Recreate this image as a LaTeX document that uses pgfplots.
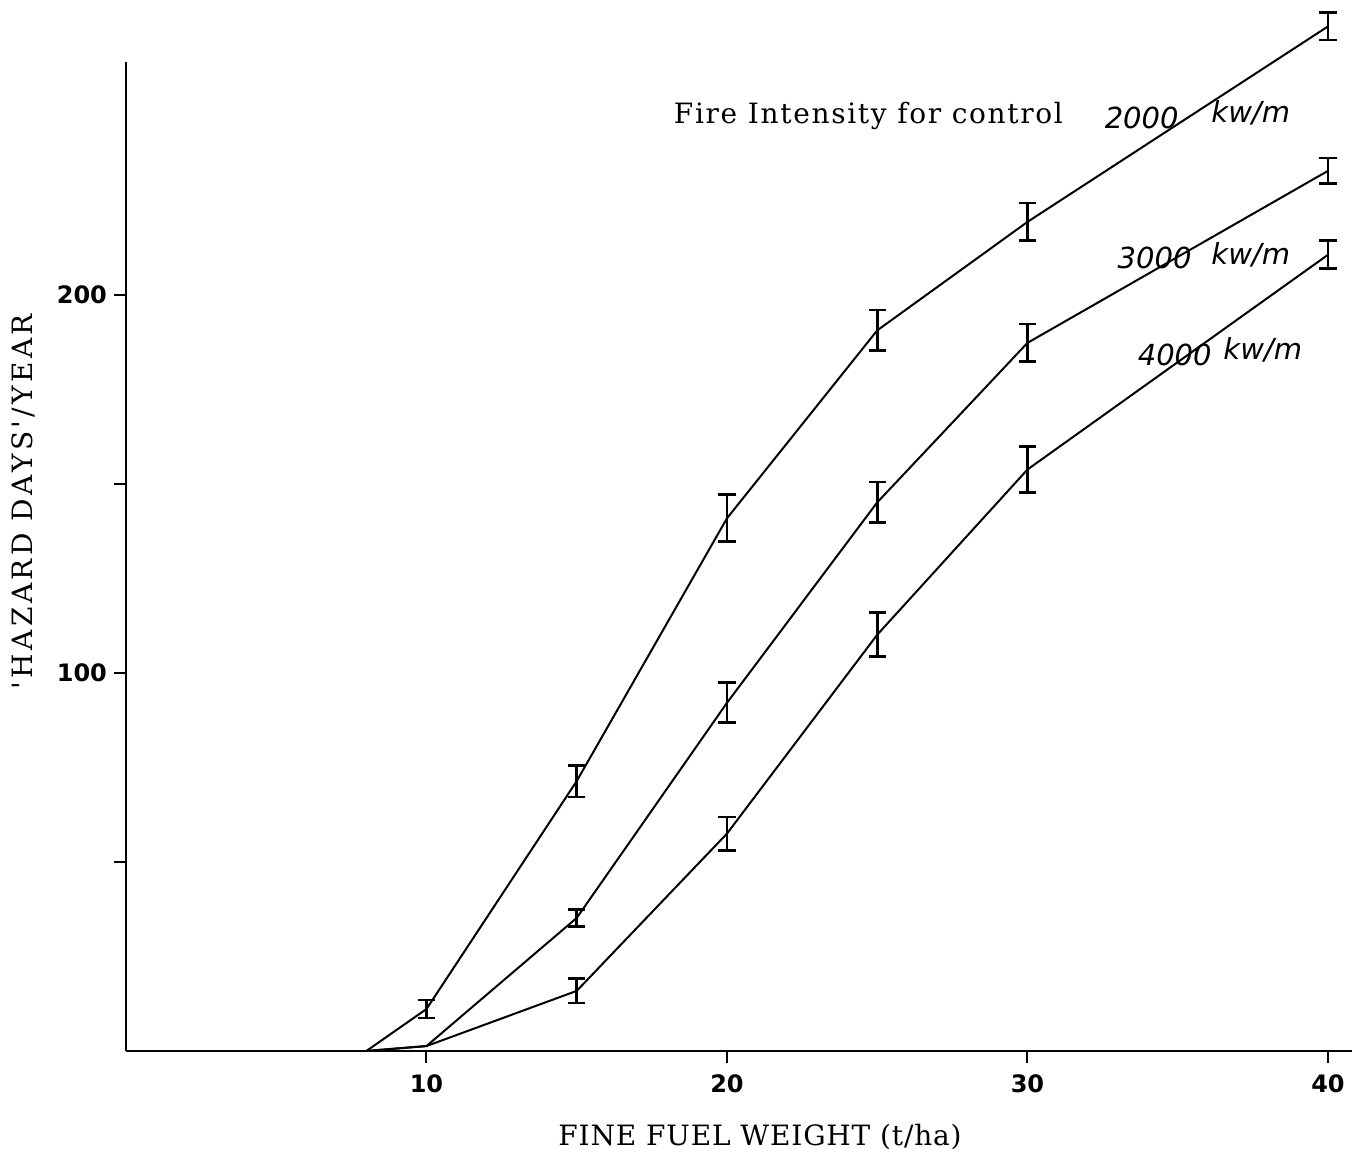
\documentclass[border=0pt]{standalone}
\usepackage{fontspec}
\usepackage{pgfplots}
\usepackage{pgfplotstable}
\pgfplotsset{compat=1.18}
\newfontfamily\tickfont{DejaVu Sans}
\newfontfamily\curvefont{DejaVu Sans}
\newfontfamily\titlefont{DejaVu Serif}[LetterSpace=6]
\newfontfamily\xlabfont{DejaVu Serif}[LetterSpace=3]
\newfontfamily\ylabfont{DejaVu Serif}[LetterSpace=12]

\pgfplotstableread{
x y e
8 0 0
10 11.1 2.4
15 71.4 4.2
20 140.9 6.2
25 190.6 5.4
30 219.3 5.0
40 271.0 3.6
}\dA
\pgfplotstableread{
x y e
8 0 0
10 1.3 0
15 35.2 2.2
20 92.1 5.3
25 145.1 5.4
30 187.3 5.0
40 232.8 3.4
}\dB
\pgfplotstableread{
x y e
8 0 0
10 1.3 0
15 15.9 3.2
20 57.5 4.4
25 110.1 5.8
30 153.8 6.0
40 210.6 3.7
}\dC

\pgfplotsset{ebar/.style={draw=none, mark=none,
  error bars/.cd, y dir=both, y explicit,
  error bar style={draw=black, line width=1.4pt},
  error mark options={draw=black, rotate=90, mark size=4.3pt, line width=1.4pt},
  /pgfplots/.cd}}

\begin{document}
\begin{tikzpicture}
\begin{axis}[
  name=ax,
  scale only axis,
  width=613pt, height=494.5pt,
  xmin=0, xmax=40.8, ymin=0, ymax=261.6,
  axis lines=left,
  axis line style={-, line width=1.4pt, black},
  xtick={10,20,30,40}, xticklabels={10,20,30,40},
  ytick={50,100,150,200}, yticklabels={,100,,200},
  tick align=outside,
  major tick length=6pt,
  tick style={line width=1pt, black},
  ticklabel style={font=\tickfont\bfseries\fontsize{12}{14}\selectfont},
  xticklabel style={yshift=-2.5pt},
  clip=false,
]
\addplot[black, line width=1pt, mark=none] table[x=x,y=y]{\dA};
\addplot[black, line width=1pt, mark=none] table[x=x,y=y]{\dB};
\addplot[black, line width=1pt, mark=none] table[x=x,y=y]{\dC};

\addplot[skip coords between index={0}{1}, ebar] table[x=x,y=y,y error=e]{\dA};
\addplot[skip coords between index={0}{2}, ebar] table[x=x,y=y,y error=e]{\dB};
\addplot[skip coords between index={0}{2}, ebar] table[x=x,y=y,y error=e]{\dC};

\node[anchor=base west, font=\titlefont\fontsize{14}{16}\selectfont] at (axis cs:18.0,245.3) {Fire Intensity for control};
\node[font=\curvefont\itshape\fontsize{14.5}{16}\selectfont] at (axis cs:33.8,246.8) {2000};
\node[font=\curvefont\itshape\fontsize{14.5}{16}\selectfont] at (axis cs:37.43,248.1) {kw/m};
\node[font=\curvefont\itshape\fontsize{14.5}{16}\selectfont] at (axis cs:34.23,209.8) {3000};
\node[font=\curvefont\itshape\fontsize{14.5}{16}\selectfont] at (axis cs:37.43,210.6) {kw/m};
\node[font=\curvefont\itshape\fontsize{14.5}{16}\selectfont] at (axis cs:34.9,184.1) {4000};
\node[font=\curvefont\itshape\fontsize{14.5}{16}\selectfont] at (axis cs:37.83,185.4) {kw/m};

\node[anchor=base, font=\xlabfont\fontsize{14}{16}\selectfont] at (axis cs:21.1,-24.9) {FINE FUEL WEIGHT (t/ha)};
\node[rotate=90, font=\ylabfont\fontsize{14}{16}\selectfont] at (axis cs:-3.43,145.3) {'HAZARD DAYS'/YEAR};
\end{axis}
\pgfresetboundingbox
\path[use as bounding box] ([shift={(-63pt,-49pt)}]ax.south west) rectangle ([shift={(0pt,31pt)}]ax.north east);
\end{tikzpicture}
\end{document}
